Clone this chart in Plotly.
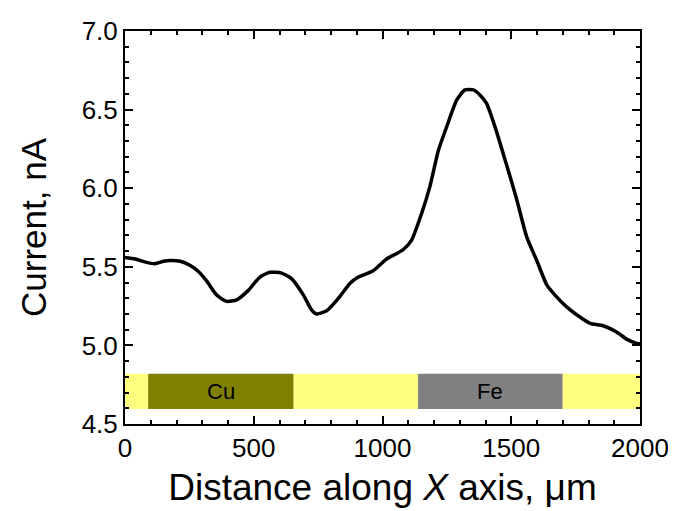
import plotly.graph_objects as go

# ---- data ----
distance_um = [0, 40, 80, 116, 150, 175, 214, 252, 285, 317, 356, 395, 434, 479,
               524, 563, 608, 647, 693, 725, 744, 783, 829, 874, 906, 964, 1016,
               1050, 1081, 1113, 1152, 1184, 1217, 1249, 1288, 1320, 1353, 1380,
               1404, 1437, 1476, 1521, 1560, 1599, 1638, 1670, 1715, 1754, 1806,
               1857, 1909, 1948, 1987, 2000]
current_nA = [5.56, 5.55, 5.53, 5.52, 5.535, 5.54, 5.535, 5.51, 5.47, 5.41, 5.32,
              5.28, 5.29, 5.35, 5.435, 5.465, 5.46, 5.425, 5.32, 5.225, 5.20, 5.22,
              5.30, 5.395, 5.435, 5.475, 5.55, 5.58, 5.61, 5.67, 5.84, 6.01, 6.24,
              6.39, 6.56, 6.625, 6.625, 6.59, 6.54, 6.39, 6.18, 5.93, 5.69, 5.54,
              5.385, 5.32, 5.245, 5.195, 5.14, 5.125, 5.085, 5.04, 5.013, 5.01]

segment_start = [0, 90, 655, 1138, 1700]
segment_end = [90, 655, 1138, 1700, 2000]
segment_material = ["substrate", "Cu", "substrate", "Fe", "substrate"]
segment_label = ["", "Cu", "", "Fe", ""]
band_bottom, band_top = 4.595, 4.82

x_ticks = [0, 500, 1000, 1500, 2000]
y_ticks = [4.5, 5.0, 5.5, 6.0, 6.5, 7.0]

# ---- styles ----
material_color = {"substrate": "#FFFF80", "Cu": "#808000", "Fe": "#808080"}
FONT = "Liberation Sans, Arial, sans-serif"

fig = go.Figure()
fig.add_trace(go.Scatter(x=distance_um, y=current_nA, mode="lines",
                         line=dict(color="black", width=3.5, shape="spline", smoothing=0.6),
                         showlegend=False, hoverinfo="skip", cliponaxis=False))

shapes = []
annotations = []
for s, e, m, lab in zip(segment_start, segment_end, segment_material, segment_label):
    shapes.append(dict(type="rect", xref="x", yref="y", x0=s, x1=e,
                       y0=band_bottom, y1=band_top, fillcolor=material_color[m],
                       line=dict(width=0), layer="below"))
    if lab:
        annotations.append(dict(x=(s + e) / 2, y=(band_bottom + band_top) / 2,
                                xref="x", yref="y", text=lab, showarrow=False,
                                font=dict(size=22, color="black", family=FONT)))

axis_common = dict(showline=True, linecolor="black", linewidth=2, mirror="ticks",
                   ticks="inside", ticklen=8, tickwidth=1.5, tickcolor="black",
                   showgrid=False, zeroline=False, automargin=False,
                   tickfont=dict(size=26, color="black", family=FONT))

# page body has an 8px margin, so the figure is shifted by 8px
fig.update_layout(
    width=668, height=503,
    margin=dict(l=117, r=36, t=23, b=87),
    paper_bgcolor="white", plot_bgcolor="white",
    shapes=shapes, annotations=annotations,
    xaxis=dict(range=[0, 2000], tickvals=x_ticks, ticktext=[str(v) for v in x_ticks],
               minor=dict(dtick=100, ticklen=4, tickwidth=1.5, tickcolor="black", ticks="inside"),
               title=dict(text="Distance along <i>X</i> axis, \u03bcm", standoff=12,
                          font=dict(size=37, color="black", family=FONT)),
               **axis_common),
    yaxis=dict(range=[4.5, 7.0], tickvals=y_ticks, ticktext=[f"{v:.1f}" for v in y_ticks],
               minor=dict(dtick=0.1, ticklen=4, tickwidth=1.5, tickcolor="black", ticks="inside"),
               title=dict(text="Current, nA", standoff=24,
                          font=dict(size=35, color="black", family=FONT)),
               **axis_common),
)

fig.write_html("out.html")
